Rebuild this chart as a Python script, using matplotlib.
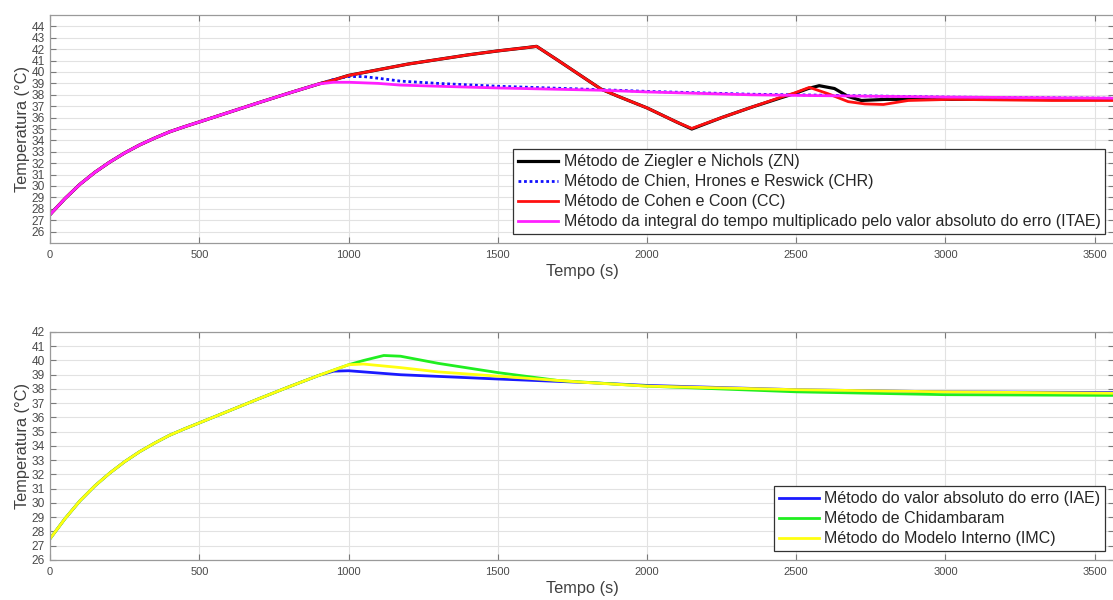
import numpy as np
import matplotlib
matplotlib.use('Agg')
from matplotlib import pyplot as plt

plt.rcParams['font.family'] = ['Liberation Sans', 'DejaVu Sans']

# common heating ramp (all methods overlap)
t_rise = [0, 50, 100, 150, 200, 250, 300, 350, 400, 450, 500, 600, 700, 800, 900]
T_rise = [27.5, 28.9, 30.15, 31.2, 32.1, 32.9, 33.6, 34.2, 34.75, 35.2, 35.62, 36.47, 37.32, 38.15, 38.95]

# top chart
t_zn = [950, 1000, 1100, 1200, 1300, 1400, 1500, 1600, 1630, 1700, 1800, 1846, 1900, 2000, 2100, 2150,
        2250, 2349, 2450, 2493, 2540, 2577, 2628, 2674, 2718, 2800, 3000, 3300, 3570]
T_zn = [39.3, 39.7, 40.2, 40.7, 41.1, 41.5, 41.85, 42.15, 42.25, 41.05, 39.3, 38.5, 37.9, 36.85, 35.6, 35.0,
        36.0, 36.9, 37.75, 38.1, 38.55, 38.8, 38.55, 37.85, 37.5, 37.6, 37.6, 37.6, 37.6]
t_cc = [950, 1000, 1100, 1200, 1300, 1400, 1500, 1600, 1630, 1700, 1800, 1846, 1900, 2000, 2100, 2150,
        2250, 2349, 2450, 2493, 2544, 2606, 2674, 2730, 2792, 2875, 3020, 3356, 3570]
T_cc = [39.3, 39.7, 40.2, 40.7, 41.1, 41.5, 41.85, 42.15, 42.25, 41.05, 39.3, 38.5, 37.9, 36.85, 35.6, 35.05,
        36.0, 36.9, 37.8, 38.15, 38.65, 38.1, 37.4, 37.2, 37.15, 37.5, 37.6, 37.5, 37.5]
t_chr = [950, 1000, 1050, 1100, 1174, 1300, 1500, 1846, 2000, 2349, 2500, 3000, 3570]
T_chr = [39.35, 39.6, 39.6, 39.45, 39.2, 39.0, 38.75, 38.45, 38.3, 38.05, 38.0, 37.8, 37.7]
t_itae = [950, 1000, 1100, 1174, 1300, 1500, 1846, 2000, 2349, 2500, 3000, 3570]
T_itae = [39.1, 39.1, 39.0, 38.85, 38.75, 38.6, 38.4, 38.25, 38.0, 37.95, 37.8, 37.7]

# bottom chart
t_iae = [950, 1000, 1050, 1174, 1500, 1800, 2000, 2500, 3000, 3570]
T_iae = [39.25, 39.28, 39.2, 39.0, 38.7, 38.45, 38.25, 37.95, 37.8, 37.75]
t_chid = [1000, 1050, 1118, 1174, 1300, 1500, 1700, 1850, 2000, 2500, 3000, 3570]
T_chid = [39.7, 40.0, 40.35, 40.3, 39.8, 39.15, 38.6, 38.4, 38.2, 37.8, 37.6, 37.55]
t_imc = [1000, 1050, 1174, 1300, 1500, 1800, 2000, 2500, 3000, 3570]
T_imc = [39.7, 39.75, 39.5, 39.2, 38.9, 38.45, 38.2, 37.95, 37.8, 37.7]

labels_top = ['Método de Ziegler e Nichols (ZN)',
              'Método de Chien, Hrones e Reswick (CHR)',
              'Método de Cohen e Coon (CC)',
              'Método da integral do tempo multiplicado pelo valor absoluto do erro (ITAE)']
labels_bot = ['Método do valor absoluto do erro (IAE)',
              'Método de Chidambaram',
              'Método do Modelo Interno (IMC)']


def full(t, T):
    return np.array(t_rise + t), np.array(T_rise + T)


def style(ax, ymin, ymax, yticks):
    ax.set_xlim(0, 3565)
    ax.set_ylim(ymin, ymax)
    ax.set_xticks([0, 500, 1000, 1500, 2000, 2500, 3000, 3500])
    ax.set_yticks(yticks)
    ax.grid(True, color='#e2e2e2', linewidth=0.8)
    ax.set_axisbelow(True)
    for s in ax.spines.values():
        s.set_color('#9a9a9a')
        s.set_linewidth(0.9)
    ax.tick_params(direction='in', length=4, width=0.8, color='#7a7a7a',
                   labelsize=8, labelcolor='#4a4a4a', top=True, right=True, pad=5)
    ax.tick_params(axis='y', labelsize=8.6, pad=4)
    ax.set_xlabel('Tempo (s)', fontsize=11.8, color='#404040', labelpad=3)
    ax.set_ylabel('Temperatura (°C)', fontsize=11.8, color='#404040', labelpad=1)


def legend(ax):
    leg = ax.legend(loc='lower right', fontsize=11.5, fancybox=False, framealpha=1,
                    edgecolor='#333333', handlelength=2.5, labelspacing=0.32,
                    borderaxespad=0.55, borderpad=0.3, handletextpad=0.35)
    leg.get_frame().set_linewidth(0.9)
    for txt in leg.get_texts():
        txt.set_color('#262626')


fig = plt.figure(figsize=(11.13, 6.0), dpi=100)
ax1 = fig.add_axes([0.045, 0.595, 0.956, 0.38])
ax2 = fig.add_axes([0.045, 0.0667, 0.956, 0.38])

ax1.plot(*full(t_zn, T_zn), color='black', lw=2.3, label=labels_top[0])
ax1.plot(*full(t_chr, T_chr), color='#1010ff', lw=2, ls=(0, (1, 1)), label=labels_top[1])
ax1.plot(*full(t_cc, T_cc), color='#ff1010', lw=2, label=labels_top[2])
ax1.plot(*full(t_itae, T_itae), color='#ff20ff', lw=2, label=labels_top[3])
style(ax1, 25, 45, range(26, 45))
legend(ax1)

ax2.plot(*full(t_iae, T_iae), color='#1a1aff', lw=2, label=labels_bot[0])
ax2.plot(*full(t_chid, T_chid), color='#20ee20', lw=2, label=labels_bot[1])
ax2.plot(*full(t_imc, T_imc), color='#ffff10', lw=2, label=labels_bot[2])
style(ax2, 26, 42, range(26, 43))
legend(ax2)

fig.savefig('out.png', dpi=100)
